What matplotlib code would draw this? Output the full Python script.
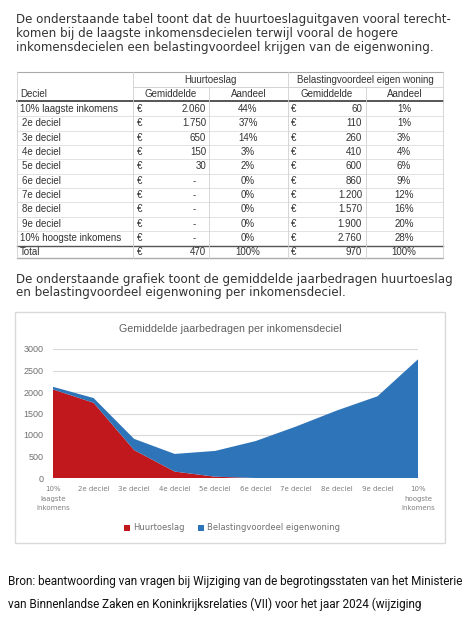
import matplotlib.pyplot as plt
from matplotlib.patches import Rectangle

W, H = 475, 624

# table / chart data
deciel = ["10% laagste inkomens", "2e deciel", "3e deciel", "4e deciel", "5e deciel",
          "6e deciel", "7e deciel", "8e deciel", "9e deciel", "10% hoogste inkomens"]
huurtoeslag = [2060, 1750, 650, 150, 30, 0, 0, 0, 0, 0]
huur_aandeel = [44, 37, 14, 3, 2, 0, 0, 0, 0, 0]
belastingvoordeel = [60, 110, 260, 410, 600, 860, 1200, 1570, 1900, 2760]
bel_aandeel = [1, 1, 3, 4, 6, 9, 12, 16, 20, 28]
totaal = ["Total", 470, 100, 970, 100]
x_labels = ["10%\nlaagste\ninkomens", "2e deciel", "3e deciel", "4e deciel", "5e deciel",
            "6e deciel", "7e deciel", "8e deciel", "9e deciel", "10%\nhoogste\ninkomens"]
y_ticks = [0, 500, 1000, 1500, 2000, 2500, 3000]

RED = "#c0181c"
BLUE = "#2e74b8"
TXT = "#333333"
GRID = "#d9d9d9"


def fmt(v):
  # excel style: dot as thousands sep, dash for zero
  if v == 0:
    return "-"
  return f"{v:,}".replace(",", ".")


fig = plt.figure(figsize=(W / 100, H / 100), dpi=100)
bg = fig.add_axes([0, 0, 1, 1])
bg.set_xlim(0, W)
bg.set_ylim(H, 0)
bg.axis("off")

# intro paragraph
para1 = ["De onderstaande tabel toont dat de huurtoeslaguitgaven vooral terecht-",
         "komen bij de laagste inkomensdecielen terwijl vooral de hogere",
         "inkomensdecielen een belastingvoordeel krijgen van de eigenwoning."]
for i, line in enumerate(para1):
  bg.text(16, 20 + i * 14, line, fontsize=8.6, color=TXT, va="center",
          family="DejaVu Sans")

# ---- table ----
tf = dict(fontsize=7, color=TXT, va="center", family="Liberation Sans")
x_left, x_c1, x_c2, x_c3, x_c4, x_right = 17, 133, 209, 288, 366, 443
y_top, y_grp, y_head, y_bot = 72, 87, 101, 258
row_y = [109 + i * 14.35 for i in range(len(deciel))]
y_total = 252

bg.plot([x_left, x_right], [y_top, y_top], color="#aaaaaa", lw=0.8)
bg.plot([x_c1, x_right], [y_grp, y_grp], color="#cccccc", lw=0.6)
bg.plot([x_left, x_right], [y_head, y_head], color="#555555", lw=1.4)
bg.plot([x_left, x_right], [245.5, 245.5], color="#555555", lw=1.0)
bg.plot([x_left, x_right], [y_bot, y_bot], color="#aaaaaa", lw=1.0)
for y in row_y[:-1]:
  bg.plot([x_left, x_right], [y + 7.2, y + 7.2], color="#dddddd", lw=0.6)
for xv, y0 in [(x_left, y_top), (x_c1, y_top), (x_c2, y_grp), (x_c3, y_top),
               (x_c4, y_grp), (x_right, y_top)]:
  bg.plot([xv, xv], [y0, y_bot], color="#d0d0d0", lw=0.6)

bg.text((x_c1 + x_c3) / 2, 80, "Huurtoeslag", ha="center", **tf)
bg.text((x_c3 + x_right) / 2, 80, "Belastingvoordeel eigen woning", ha="center", **tf)
bg.text(20, 94, "Deciel", ha="left", **tf)
for xa, xb in [(x_c1, x_c2), (x_c3, x_c4)]:
  bg.text((xa + xb) / 2, 94, "Gemiddelde", ha="center", **tf)
for xa, xb in [(x_c2, x_c3), (x_c4, x_right)]:
  bg.text((xa + xb) / 2, 94, "Aandeel", ha="center", **tf)

for i, y in enumerate(row_y):
  bg.text(20 if i == 0 or i == 9 else 22, y, deciel[i], ha="left", **tf)
  bg.text(137, y, "€", ha="left", **tf)
  if huurtoeslag[i] == 0:
    bg.text(194, y, "-", ha="center", **tf)
  else:
    bg.text(206, y, fmt(huurtoeslag[i]), ha="right", **tf)
  bg.text(248, y, f"{huur_aandeel[i]}%", ha="center", **tf)
  bg.text(291, y, "€", ha="left", **tf)
  bg.text(362, y, fmt(belastingvoordeel[i]), ha="right", **tf)
  bg.text(404, y, f"{bel_aandeel[i]}%", ha="center", **tf)

bg.text(20, y_total, totaal[0], ha="left", **tf)
bg.text(137, y_total, "€", ha="left", **tf)
bg.text(206, y_total, fmt(totaal[1]), ha="right", **tf)
bg.text(248, y_total, f"{totaal[2]}%", ha="center", **tf)
bg.text(291, y_total, "€", ha="left", **tf)
bg.text(362, y_total, fmt(totaal[3]), ha="right", **tf)
bg.text(404, y_total, f"{totaal[4]}%", ha="center", **tf)

# second paragraph
para2 = ["De onderstaande grafiek toont de gemiddelde jaarbedragen huurtoeslag",
         "en belastingvoordeel eigenwoning per inkomensdeciel."]
for i, line in enumerate(para2):
  bg.text(16, 279 + i * 13.5, line, fontsize=8.6, color=TXT, va="center",
          family="DejaVu Sans")

# ---- chart ----
bg.add_patch(Rectangle((15, 312), 430, 231, fill=False, edgecolor="#d9d9d9", lw=1))
bg.text(230, 329, "Gemiddelde jaarbedragen per inkomensdeciel", ha="center",
        va="center", fontsize=7.75, color="#606060", family="Liberation Sans")

ax = fig.add_axes([53 / W, (H - 478) / H, 365 / W, 129 / H])
xs = list(range(len(deciel)))
ax.stackplot(xs, huurtoeslag, belastingvoordeel, colors=[RED, BLUE],
             labels=["Huurtoeslag", "Belastingvoordeel eigenwoning"], zorder=2)
ax.set_xlim(0, len(deciel) - 1)
ax.set_ylim(0, 3000)
ax.set_yticks(y_ticks)
ax.yaxis.grid(True, color=GRID, lw=0.8, zorder=0)
ax.set_axisbelow(True)
for s in ax.spines.values():
  s.set_visible(False)
ax.tick_params(axis="y", length=0, pad=7, labelsize=6.5, labelcolor="#707070")
ax.set_xticks(xs)
ax.set_xticklabels(x_labels, fontsize=5, color="#808080", linespacing=1.7,
                   va="top")
ax.tick_params(axis="x", length=0, pad=6)
for lab in ax.get_yticklabels():
  lab.set_family("Liberation Sans")

ax.legend(loc="center", bbox_to_anchor=(232 / W, 1 - 528 / H),
          bbox_transform=fig.transFigure, ncol=2, frameon=False, fontsize=6,
          labelcolor="#707070", handlelength=0.7, handleheight=0.7,
          handletextpad=0.4, columnspacing=1.6)

# source
bron = ["Bron: beantwoording van vragen bij Wijziging van de begrotingsstaten van het Ministerie",
        "van Binnenlandse Zaken en Koninkrijksrelaties (VII) voor het jaar 2024 (wijziging"]
for i, line in enumerate(bron):
  bg.text(8, 582 + i * 22, line, fontsize=8.5, color="#111111", va="center",
          family="Roboto")

fig.savefig("out.png", dpi=100)
